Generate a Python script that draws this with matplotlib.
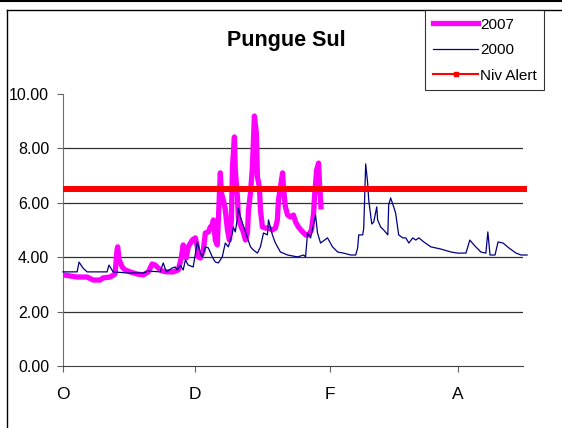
import matplotlib.pyplot as plt
from matplotlib.lines import Line2D

plt.rcParams['font.family'] = ['Liberation Sans', 'DejaVu Sans']

# days counted from 1 October, water level in metres
days_2000 = [0, 6.5, 7.4, 9.2, 11.1, 20.3, 21.2, 23.1, 29.6, 37.0, 39.3, 44.8, 46.2, 47.6,
             50.3, 51.7, 52.7, 54.0, 55.4, 56.4, 57.7, 60.0, 61.9, 63.3, 64.2, 65.6, 67.0,
             68.8, 70.2, 71.6, 73.4, 74.8, 76.2, 78.1, 78.5, 79.4, 80.4, 80.8, 81.8, 82.7,
             84.1, 85.0, 86.4, 87.8, 89.6, 91.0, 92.4, 94.2, 94.7, 96.5, 97.9, 100.2, 103.5,
             108.1, 110.9, 111.8, 112.7, 114.1, 116.4, 117.3, 118.7, 121.9, 124.2, 126.6,
             129.3, 132.6, 134.9, 135.8, 136.3, 138.1, 138.6, 139.5, 140.4, 140.9, 142.3,
             143.2, 144.6, 145.0, 146.4, 147.8, 149.7, 150.1, 151.0, 152.4, 153.3, 154.7,
             156.6, 158.0, 159.4, 161.2, 162.6, 164.0, 166.3, 169.5, 174.1, 178.8, 182.0,
             185.7, 187.5, 189.4, 192.6, 194.9, 195.8, 196.8, 199.1, 200.5, 202.8, 205.5,
             208.8, 211.1, 213.9]
level_2000 = [3.46, 3.46, 3.82, 3.60, 3.46, 3.46, 3.71, 3.46, 3.42, 3.42, 3.49, 3.46, 3.79, 3.46,
              3.60, 3.64, 3.53, 3.71, 3.53, 3.90, 3.71, 3.64, 4.56, 4.15, 4.01, 4.38, 4.34,
              4.01, 3.82, 3.79, 4.01, 4.52, 4.38, 4.89, 5.11, 4.93, 5.44, 5.81, 5.48, 5.26,
              4.93, 4.71, 4.38, 4.26, 4.15, 4.38, 4.89, 4.82, 5.37, 4.82, 4.52, 4.19, 4.08,
              4.01, 4.08, 4.01, 4.89, 4.71, 5.55, 4.89, 4.52, 4.71, 4.38, 4.19,
              4.15, 4.08, 4.08, 4.34, 4.82, 4.82, 5.07, 7.43, 6.73, 6.10, 5.22,
              5.29, 5.85, 5.37, 5.11, 5.00, 4.82, 5.92, 6.18, 5.85, 5.62, 4.82,
              4.71, 4.71, 4.52, 4.71, 4.63, 4.71, 4.56, 4.38, 4.30, 4.19, 4.15,
              4.15, 4.63, 4.45, 4.19, 4.15, 4.93, 4.08, 4.08, 4.56, 4.52, 4.34,
              4.15, 4.08, 4.08]

days_2007 = [0, 6.5, 11.1, 13.9, 17.1, 18.5, 21.7, 24.0, 24.9, 25.2, 25.9, 27.3, 28.6, 30.9,
             34.2, 37.0, 39.3, 41.1, 42.5, 43.9, 45.7, 48.0, 50.8, 53.1, 54.5, 55.4, 56.8,
             57.7, 59.6, 61.0, 61.9, 62.4, 63.3, 64.7, 65.6, 67.0, 67.9, 68.8, 69.3, 70.2,
             71.1, 71.6, 72.5, 73.0, 73.9, 74.8, 75.8, 76.7, 77.6, 78.1, 79.0, 79.4, 80.4,
             80.8, 81.8, 83.1, 84.1, 85.0, 85.5, 86.4, 87.3, 88.2, 89.1, 89.6, 90.5, 91.0,
             91.9, 93.3, 94.7, 96.5, 97.9, 98.8, 99.3, 100.2, 101.2, 101.6, 102.5, 103.5,
             104.8, 106.2, 107.2, 108.5, 110.4, 111.8, 113.2, 114.5, 115.5, 115.9, 116.9,
             117.8, 118.2, 118.7, 118.9]
level_2007 = [3.35, 3.27, 3.27, 3.16, 3.16, 3.24, 3.27, 3.38, 4.26, 4.38, 3.90, 3.64, 3.53, 3.46,
              3.38, 3.35, 3.46, 3.75, 3.71, 3.60, 3.49, 3.46, 3.46, 3.53, 3.97, 4.45, 3.97,
              4.38, 4.63, 4.71, 4.38, 4.01, 3.97, 4.26, 4.89, 4.93, 5.11, 5.18, 5.37, 4.63,
              4.45, 5.37, 7.10, 6.36, 6.10, 5.74, 5.00, 4.63, 5.37, 7.32, 8.42, 7.21, 6.21,
              5.48, 5.18, 4.93, 4.63, 4.89, 5.74, 6.36, 7.32, 9.19, 8.57, 6.95, 6.58, 5.74,
              5.11, 5.07, 5.07, 5.00, 5.07, 5.37, 6.10, 6.58, 7.10, 6.58, 5.85, 5.55,
              5.48, 5.55, 5.29, 5.11, 4.93, 4.82, 4.82, 5.00, 5.62, 6.21, 7.21,
              7.46, 6.73, 6.10, 5.85]

alert_days = list(range(0, 215))
alert_level = [6.5] * len(alert_days)

month_days = [0, 61, 123, 182]
month_labels = ['O', 'D', 'F', 'A']

fig = plt.figure(figsize=(5.62, 4.28), dpi=100)
ax = fig.add_axes([0.1121, 0.1449, 0.8185, 0.6355])

for y in [2, 4, 6, 8]:
    ax.axhline(y, color='#303030', lw=0.9, zorder=1)

ax.plot(days_2007, level_2007, color='#FF00FF', lw=3.8, solid_joinstyle='round',
        zorder=3, label='2007')
ax.plot(days_2000, level_2000, color='#000080', lw=0.9, zorder=4, label='2000',
        clip_on=False)
ax.plot(alert_days, alert_level, color='#FF0000', lw=4.3, zorder=5, clip_on=False,
        solid_capstyle='butt')

ax.set_xlim(0, 212)
ax.set_ylim(0, 10)
ax.set_yticks([0, 2, 4, 6, 8, 10])
ax.set_yticklabels(['%.2f' % v for v in [0, 2, 4, 6, 8, 10]], fontsize=11.5)
ax.set_xticks(month_days)
ax.set_xticklabels(month_labels, fontsize=12.5)
ax.tick_params(axis='y', direction='out', length=4, width=0.8, color='#606060', pad=6)
ax.tick_params(axis='x', direction='out', length=4, width=0.8, color='#606060', pad=11)
for s in ['top', 'right']:
    ax.spines[s].set_visible(False)
ax.spines['left'].set_color('#707070')
ax.spines['bottom'].set_color('#404040')

fig.text(0.51, 0.905, 'Pungue Sul', ha='center', va='center', fontsize=15.5, fontweight='bold')

handles = [Line2D([], [], color='#FF00FF', lw=3.8),
           Line2D([], [], color='#000080', lw=0.9),
           Line2D([], [], color='#FF0000', lw=1.5, marker='s', markersize=3)]
leg = fig.legend(handles, ['2007', '2000', 'Niv Alert'], loc='upper left',
                 bbox_to_anchor=(425 / 562, 1 - 10 / 428), fontsize=11, frameon=True,
                 fancybox=False, edgecolor='black', handlelength=3.0, handletextpad=0.1,
                 labelspacing=0.75, borderpad=0.5, borderaxespad=0)
leg.get_frame().set_linewidth(0.8)

# outer chart frame
fig.add_artist(Line2D([0, 1], [1 - 1 / 428, 1 - 1 / 428], color='black', lw=1.5,
                      transform=fig.transFigure))
fig.add_artist(Line2D([7 / 562, 1], [1 - 10 / 428, 1 - 10 / 428], color='black', lw=1,
                      transform=fig.transFigure))
fig.add_artist(Line2D([7 / 562, 7 / 562], [0, 1 - 10 / 428], color='black', lw=1,
                      transform=fig.transFigure))

plt.savefig('out.png', dpi=100)
